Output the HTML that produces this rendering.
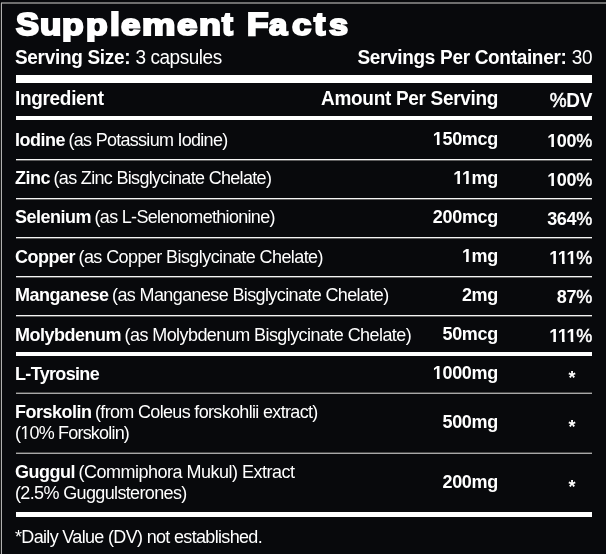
<!DOCTYPE html>
<html><head><meta charset="utf-8">
<style>
html,body{margin:0;padding:0;}
body{width:606px;height:554px;background:#08090c;position:relative;overflow:hidden;font-family:"Liberation Sans",sans-serif;color:#fff;}
.wrap{position:absolute;left:0;top:0;width:606px;height:554px;will-change:transform;}
.bt{position:absolute;left:1px;top:2px;width:605px;height:2px;background:#6e6e6e;}
.b0{position:absolute;left:0;top:3px;width:1px;height:551px;background:#1c1c1c;}
.bl{position:absolute;left:1px;top:3px;width:1px;height:551px;background:#b0b0b0;}
.t{position:absolute;white-space:nowrap;line-height:18px;font-size:18px;letter-spacing:-1.5px;}
.t b{letter-spacing:-0.5px;}
.t i{font-style:normal;letter-spacing:-0.64px;}
.r{text-align:right;}
.tg{position:absolute;top:8px;font-size:32.25px;line-height:32.25px;font-weight:bold;-webkit-text-stroke:2.25px #fff;transform-origin:0 27px;}
.bar{position:absolute;left:16px;width:576px;background:#fff;}
.ln{position:absolute;left:16px;width:576px;height:2px;background:linear-gradient(#f4f4f4 50%,#5e5e5e 50%);}
.ln2{position:absolute;left:16px;width:576px;height:2px;background:linear-gradient(#4a4a4a 50%,#a8a8a8 50%);}
.amt{font-weight:bold;right:108px;letter-spacing:-0.3px;}
.dv{font-weight:bold;right:14px;letter-spacing:-0.3px;}
.sv{font-size:19px;letter-spacing:0;transform:scaleY(1.05);transform-origin:0 2.5px;}
.hd b{letter-spacing:-0.32px;}
.sv b{letter-spacing:-0.32px;}
.sv i{letter-spacing:-0.45px;}
.lt{transform:scaleY(1.07);transform-origin:0 2.5px;}
.hd{transform:scaleY(1.07);transform-origin:0 2.5px;}
.amt,.dv{transform:scaleY(1.04);transform-origin:0 2.5px;}
.o1{clip-path:polygon(0 0,100% 0,100% 13.6px,6.8px 13.6px,6.8px 100%,4.2px 100%,4.2px 13.6px,0 13.6px);}
.o1r{clip-path:polygon(0 0,100% 0,100% 14.2px,6.25px 14.2px,6.25px 100%,4.45px 100%,4.45px 14.2px,0 14.2px);}
.pc{font-weight:normal;-webkit-text-stroke:0.5px #fff;}
.st{position:absolute;font-size:18px;line-height:18px;font-weight:bold;left:568.5px;}
</style></head><body>
<div class="wrap">
<div class="b0"></div><div class="bt"></div><div class="bl"></div>
<span class="tg" style="left:15.91px;transform:scale(1.066,1.0)">S</span><span class="tg" style="left:39.75px;transform:scale(1.083,0.92)">u</span><span class="tg" style="left:62.40px;transform:scale(1.097,0.92)">p</span><span class="tg" style="left:85.60px;transform:scale(1.097,0.92)">p</span><span class="tg" style="left:109.97px;transform:scale(1.094,1.0)">l</span><span class="tg" style="left:121.15px;transform:scale(1.083,0.92)">e</span><span class="tg" style="left:142.33px;transform:scale(1.164,0.92)">m</span><span class="tg" style="left:176.95px;transform:scale(1.139,0.92)">e</span><span class="tg" style="left:198.79px;transform:scale(1.111,0.92)">n</span><span class="tg" style="left:222.44px;transform:scale(1.008,1.0)">t</span><span class="tg" style="left:247.27px;transform:scale(1.091,1.0)">F</span><span class="tg" style="left:268.88px;transform:scale(1.018,0.92)">a</span><span class="tg" style="left:291.86px;transform:scale(1.073,0.92)">c</span><span class="tg" style="left:314.07px;transform:scale(1.049,1.0)">t</span><span class="tg" style="left:328.59px;transform:scale(1.060,0.92)">s</span>
<div class="t sv" style="left:15px;top:48px"><b>Serving Size:</b> <i>3 capsules</i></div>
<div class="t r sv" style="right:14px;top:48px"><b>Servings Per Container:</b> <i>30</i></div>
<div class="bar" style="top:75px;height:8px"></div>
<div class="t hd" style="left:15px;top:89px;font-size:19px"><b>Ingredient</b></div>
<div class="t r hd" style="right:108px;top:89px;font-size:19px"><b>Amount Per Serving</b></div>
<div class="t r hd" style="right:14px;top:91px;font-size:19px"><b><span class="pc">%</span>DV</b></div>
<div class="bar" style="top:116px;height:4px"></div>
<div class="t lt" style="left:15px;top:130px"><b>Iodine</b> <i style="letter-spacing:-0.72px">(as Potassium Iodine)</i></div>
<div class="t amt" style="top:130px"><span class="o1">1</span>50mcg</div>
<div class="t dv" style="top:132px"><span class="o1">1</span>00<span class="pc">%</span></div>
<div class="ln" style="top:159px"></div>
<div class="t lt" style="left:15px;top:168px"><b>Zinc</b> <i style="letter-spacing:-0.68px">(as Zinc Bisglycinate Chelate)</i></div>
<div class="t amt" style="top:169px"><span class="o1">1</span><span class="o1">1</span>mg</div>
<div class="t dv" style="top:171px"><span class="o1">1</span>00<span class="pc">%</span></div>
<div class="ln" style="top:198px"></div>
<div class="t lt" style="left:15px;top:207px"><b>Selenium</b> <i style="letter-spacing:-0.69px">(as L-Selenomethionine)</i></div>
<div class="t amt" style="top:208px">200mcg</div>
<div class="t dv" style="top:210px">364<span class="pc">%</span></div>
<div class="ln" style="top:237px"></div>
<div class="t lt" style="left:15px;top:247px"><b>Copper</b> <i style="letter-spacing:-0.585px">(as Copper Bisglycinate Chelate)</i></div>
<div class="t amt" style="top:247px"><span class="o1">1</span>mg</div>
<div class="t dv" style="top:249px"><span class="o1">1</span><span class="o1">1</span><span class="o1">1</span><span class="pc">%</span></div>
<div class="ln" style="top:276px"></div>
<div class="t lt" style="left:15px;top:285px"><b>Manganese</b> <i style="letter-spacing:-0.62px">(as Manganese Bisglycinate Chelate)</i></div>
<div class="t amt" style="top:286px">2mg</div>
<div class="t dv" style="top:288px">87<span class="pc">%</span></div>
<div class="ln" style="top:315px"></div>
<div class="t lt" style="left:15px;top:325px"><b>Molybdenum</b> <i style="letter-spacing:-0.57px">(as Molybdenum Bisglycinate Chelate)</i></div>
<div class="t amt" style="top:325px">50mcg</div>
<div class="t dv" style="top:327px"><span class="o1">1</span><span class="o1">1</span><span class="o1">1</span><span class="pc">%</span></div>
<div class="bar" style="top:352px;height:4px"></div>
<div class="t lt" style="left:15px;top:364px"><b style="letter-spacing:-0.67px">L-Tyrosine</b></div>
<div class="t amt" style="top:364px"><span class="o1">1</span>000mg</div>
<div class="st" style="top:368.5px">*</div>
<div class="ln2" style="top:392px"></div>
<div class="t lt" style="left:15px;top:402px"><b>Forskolin</b> <i style="letter-spacing:-0.67px">(from Coleus forskohlii extract)</i></div>
<div class="t lt" style="left:15px;top:423px"><i style="letter-spacing:-0.8px">(<span class="o1r">1</span>0% Forskolin)</i></div>
<div class="t amt" style="top:413px">500mg</div>
<div class="st" style="top:418px">*</div>
<div class="ln2" style="top:452px"></div>
<div class="t lt" style="left:15px;top:462px"><b>Guggul</b> <i style="letter-spacing:-0.5px">(Commiphora Mukul) Extract</i></div>
<div class="t lt" style="left:15px;top:482.5px"><i>(2.5% Guggulsterones)</i></div>
<div class="t amt" style="top:473px">200mg</div>
<div class="st" style="top:478px">*</div>
<div class="bar" style="top:512px;height:5px"></div>
<div class="t lt" style="left:15px;top:527px"><i style="letter-spacing:-0.67px">*Daily Value (DV) not established.</i></div>
</div>
</body></html>
